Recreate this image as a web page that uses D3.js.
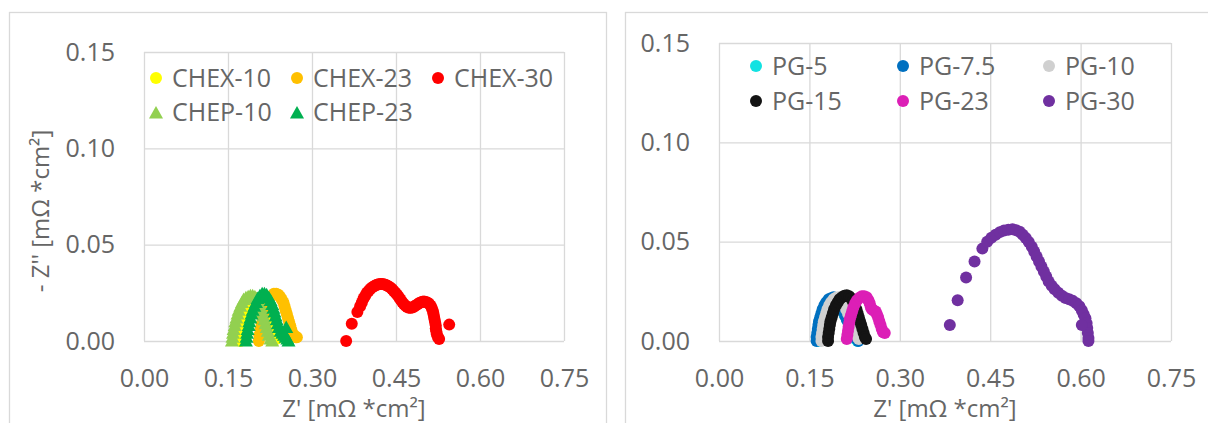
<!DOCTYPE html>
<html>
<head>
<meta charset="utf-8">
<script src="https://cdn.jsdelivr.net/npm/d3@7"></script>
<style>
  body { margin: 0; background: #fff; }
  text { font-family: "Open Sans", sans-serif; fill: #666; }
</style>
</head>
<body>
<div id="chart"></div>
<script>
// Nyquist plots, two panels (CHEX/CHEP on the left, PG on the right)
const xTicks = [0, 0.15, 0.30, 0.45, 0.60, 0.75];
const yTicks = [0, 0.05, 0.10, 0.15];

const leftNames = ["CHEX-10", "CHEX-23", "CHEX-30", "CHEP-10", "CHEP-23"];
const rightNames = ["PG-5", "PG-7.5", "PG-10", "PG-15", "PG-23", "PG-30"];

// [Z', -Z'']
const chex10 = [[0.172,0.000],[0.173,0.003],[0.175,0.006],[0.177,0.009],[0.179,0.012],[0.182,0.015],[0.185,0.017],
  [0.188,0.019],[0.192,0.0205],[0.196,0.0215],[0.200,0.022],[0.204,0.0215],[0.208,0.020],[0.211,0.018],[0.214,0.016],
  [0.217,0.014],[0.220,0.012],[0.223,0.009],[0.226,0.007],[0.229,0.005],[0.232,0.003],[0.236,0.001]];
const chex23 = [[0.205,0.000],[0.206,0.003],[0.208,0.006],[0.210,0.009],[0.212,0.012],[0.214,0.015],[0.217,0.018],
  [0.220,0.020],[0.224,0.022],[0.228,0.0235],[0.232,0.0245],[0.236,0.0245],[0.240,0.024],[0.243,0.023],[0.246,0.0215],
  [0.249,0.020],[0.251,0.018],[0.253,0.016],[0.255,0.014],[0.257,0.012],[0.259,0.010],[0.261,0.008],[0.263,0.006],
  [0.265,0.004],[0.268,0.003],[0.271,0.002],[0.273,0.002]];
const chex30 = [[0.361,0.000],[0.371,0.009],[0.381,0.015],[0.386,0.018],[0.389,0.020],[0.392,0.022],[0.395,0.0235],
  [0.398,0.025],[0.401,0.026],[0.404,0.027],[0.407,0.0277],[0.410,0.0283],[0.413,0.0288],[0.416,0.0292],[0.419,0.0295],
  [0.422,0.0296],[0.425,0.0296],[0.428,0.0295],[0.431,0.0292],[0.434,0.0288],[0.437,0.0283],[0.440,0.0277],[0.443,0.027],
  [0.446,0.026],[0.449,0.025],[0.452,0.024],[0.455,0.0228],[0.458,0.0215],[0.461,0.0203],[0.464,0.0192],[0.467,0.0183],
  [0.470,0.0177],[0.473,0.0173],[0.476,0.0172],[0.479,0.0174],[0.482,0.0178],[0.485,0.0184],[0.488,0.019],[0.491,0.0196],
  [0.494,0.020],[0.497,0.0204],[0.500,0.0205],[0.503,0.0203],[0.506,0.020],[0.509,0.0193],[0.512,0.0183],[0.514,0.017],
  [0.516,0.0155],[0.517,0.014],[0.518,0.0125],[0.519,0.011],[0.520,0.0095],[0.521,0.008],[0.521,0.0065],[0.522,0.005],
  [0.523,0.0035],[0.525,0.002],[0.527,0.001],[0.545,0.0085]];
const chep10 = [[0.157,0.000],[0.158,0.002],[0.159,0.004],[0.160,0.006],[0.162,0.008],[0.163,0.010],[0.165,0.012],
  [0.167,0.014],[0.169,0.016],[0.172,0.018],[0.175,0.020],[0.178,0.0215],[0.182,0.0225],[0.186,0.023],[0.190,0.0235],
  [0.194,0.0235],[0.198,0.023],[0.201,0.022],[0.204,0.0205],[0.207,0.019],[0.209,0.017],[0.211,0.015],[0.213,0.013],
  [0.215,0.011],[0.217,0.009],[0.219,0.007],[0.221,0.005],[0.223,0.003],[0.226,0.001],[0.229,0.000]];
const chep23 = [[0.182,0.000],[0.183,0.002],[0.184,0.004],[0.185,0.006],[0.187,0.008],[0.188,0.010],[0.190,0.012],
  [0.192,0.014],[0.194,0.016],[0.197,0.018],[0.200,0.020],[0.203,0.022],[0.207,0.0235],[0.211,0.0245],[0.215,0.0245],
  [0.219,0.024],[0.223,0.0225],[0.226,0.021],[0.229,0.019],[0.231,0.017],[0.233,0.015],[0.235,0.013],[0.237,0.011],
  [0.239,0.009],[0.241,0.007],[0.244,0.005],[0.247,0.004],[0.250,0.003],[0.253,0.002],[0.256,0.001],[0.258,0.000],
  [0.254,0.007]];

const pg5 = [[0.165,0.000],[0.165,0.002],[0.166,0.004],[0.167,0.006],[0.168,0.008],[0.169,0.010],[0.171,0.012],
  [0.173,0.014],[0.175,0.016],[0.178,0.018],[0.181,0.0195],[0.185,0.0205],[0.189,0.021],[0.193,0.0212],[0.197,0.0205],
  [0.200,0.019],[0.203,0.017],[0.206,0.015],[0.209,0.013],[0.212,0.011],[0.215,0.009],[0.218,0.007],[0.221,0.005],
  [0.224,0.003],[0.227,0.001],[0.230,0.000]];
const pg75 = [[0.162,0.000],[0.162,0.002],[0.163,0.004],[0.164,0.006],[0.165,0.008],[0.166,0.010],[0.168,0.012],
  [0.170,0.014],[0.172,0.016],[0.175,0.018],[0.178,0.0195],[0.182,0.021],[0.186,0.0215],[0.190,0.022],[0.194,0.0215],
  [0.197,0.0205],[0.200,0.019],[0.203,0.017],[0.206,0.015],[0.209,0.013],[0.212,0.011],[0.215,0.009],[0.218,0.007],
  [0.221,0.005],[0.224,0.003],[0.227,0.0015],[0.231,0.000]];
const pg10 = [[0.170,0.000],[0.170,0.002],[0.171,0.004],[0.172,0.006],[0.173,0.008],[0.174,0.010],[0.176,0.012],
  [0.178,0.014],[0.180,0.016],[0.183,0.018],[0.186,0.0195],[0.190,0.021],[0.194,0.0218],[0.198,0.022],[0.202,0.0215],
  [0.205,0.020],[0.208,0.018],[0.211,0.016],[0.214,0.014],[0.217,0.012],[0.220,0.010],[0.223,0.008],[0.226,0.006],
  [0.228,0.004],[0.230,0.002],[0.232,0.001]];
const pg15 = [[0.181,0.000],[0.181,0.002],[0.182,0.004],[0.183,0.006],[0.184,0.008],[0.185,0.010],[0.187,0.012],
  [0.189,0.014],[0.191,0.016],[0.194,0.018],[0.197,0.0195],[0.200,0.021],[0.204,0.022],[0.208,0.0228],[0.212,0.023],
  [0.216,0.0225],[0.219,0.0215],[0.222,0.020],[0.225,0.018],[0.228,0.016],[0.230,0.014],[0.232,0.012],[0.234,0.010],
  [0.236,0.008],[0.238,0.006],[0.240,0.004],[0.242,0.002],[0.244,0.001]];
const pg23 = [[0.212,0.001],[0.213,0.003],[0.214,0.005],[0.215,0.007],[0.216,0.009],[0.217,0.011],[0.219,0.013],
  [0.221,0.015],[0.223,0.017],[0.226,0.019],[0.229,0.0205],[0.233,0.0218],[0.237,0.0225],[0.241,0.0225],[0.245,0.022],
  [0.248,0.0205],[0.250,0.019],[0.252,0.017],[0.254,0.0158],[0.257,0.0152],[0.260,0.0148],[0.262,0.0135],[0.264,0.012],
  [0.266,0.010],[0.268,0.008],[0.270,0.006],[0.272,0.0045],[0.275,0.004]];
const pg30 = [[0.383,0.008],[0.396,0.0205],[0.410,0.032],[0.424,0.040],[0.437,0.0465],[0.445,0.050],[0.452,0.052],
  [0.459,0.0535],[0.466,0.0548],[0.473,0.0556],[0.480,0.056],[0.487,0.0562],[0.493,0.0558],[0.499,0.055],[0.504,0.0535],
  [0.509,0.0518],[0.514,0.0498],[0.519,0.0475],[0.523,0.045],[0.527,0.0425],[0.531,0.040],[0.535,0.0375],[0.539,0.035],
  [0.543,0.0325],[0.547,0.030],[0.552,0.0278],[0.557,0.026],[0.563,0.0243],[0.569,0.0228],[0.575,0.0217],[0.581,0.021],
  [0.587,0.0202],[0.593,0.019],[0.598,0.0175],[0.602,0.0155],[0.605,0.0135],[0.608,0.0115],[0.610,0.009],[0.611,0.0065],
  [0.612,0.004],[0.613,0.0015],[0.613,0.000],[0.602,0.008]];

const leftData = [chex10, chex23, chex30, chep10, chep23];
const rightData = [pg5, pg75, pg10, pg15, pg23, pg30];

const leftColors = ["#ffff00", "#ffc000", "#ff0000", "#92d050", "#00b050"];
const leftShapes = ["circle", "circle", "circle", "triangle", "triangle"];
const rightColors = ["#12e2e2", "#0070c0", "#d0d0d0", "#141414", "#dc1fb6", "#7030a0"];

const W = 1208, H = 423;
const svg = d3.select("#chart").append("svg").attr("width", W).attr("height", H);

const grid = "#d9d9d9";
const tri = "M0,-7L7,5.5L-7,5.5Z";

function panel(cfg) {
  // chart area frame
  svg.append("rect")
    .attr("x", cfg.frame[0] + 0.5).attr("y", cfg.frame[1] + 0.5)
    .attr("width", cfg.frame[2]).attr("height", cfg.frame[3])
    .attr("fill", "#fff").attr("stroke", grid).attr("stroke-width", 1.3);

  const x = d3.scaleLinear().domain([0, 0.75]).range([cfg.left, cfg.right]);
  const y = d3.scaleLinear().domain([0, 0.15]).range([cfg.bottom, cfg.top]);

  const g = svg.append("g");
  const fmt = d3.format(".2f");

  const xa = g.append("g").attr("transform", "translate(0," + cfg.bottom + ")")
    .call(d3.axisBottom(x).tickValues(xTicks).tickFormat(fmt)
      .tickSize(-(cfg.bottom - cfg.top)).tickPadding(28));
  const ya = g.append("g").attr("transform", "translate(" + cfg.left + ",0)")
    .call(d3.axisLeft(y).tickValues(yTicks).tickFormat(fmt)
      .tickSize(-(cfg.right - cfg.left)).tickPadding(29));
  [xa, ya].forEach(a => {
    a.select(".domain").remove();
    a.selectAll(".tick line").attr("stroke", grid).attr("stroke-width", 1.3);
    a.selectAll(".tick text").attr("font-size", 25).attr("font-family", "Open Sans").attr("fill", "#666");
  });

  // x title
  g.append("text")
    .attr("x", (cfg.left + cfg.right) / 2).attr("y", 417)
    .attr("text-anchor", "middle").attr("font-size", 24)
    .text("Z' [mΩ *cm²]");
  if (cfg.yTitle) {
    g.append("text")
      .attr("transform", "translate(41," + cfg.yTitleY + ") rotate(-90)")
      .attr("dy", "0.35em").attr("text-anchor", "middle").attr("font-size", 24)
      .text(cfg.yTitle);
  }

  // points
  cfg.data.forEach((pts, i) => {
    const sg = g.append("g").attr("fill", cfg.colors[i]);
    if (cfg.shapes && cfg.shapes[i] === "triangle") {
      sg.selectAll("path").data(pts).enter().append("path")
        .attr("d", tri)
        .attr("transform", d => "translate(" + x(d[0]) + "," + y(d[1]) + ")");
    } else {
      sg.selectAll("circle").data(pts).enter().append("circle")
        .attr("cx", d => x(d[0])).attr("cy", d => y(d[1])).attr("r", 6);
    }
  });

  // legend
  const lg = g.append("g");
  cfg.names.forEach((name, i) => {
    const col = i % 3, row = Math.floor(i / 3);
    const mx = cfg.legX[col], my = cfg.legY[row];
    if (cfg.shapes && cfg.shapes[i] === "triangle") {
      lg.append("path").attr("d", tri).attr("fill", cfg.colors[i])
        .attr("transform", "translate(" + mx + "," + (my + 1) + ")");
    } else {
      lg.append("circle").attr("cx", mx).attr("cy", my).attr("r", 6).attr("fill", cfg.colors[i]);
    }
    lg.append("text").attr("x", mx + 16).attr("y", my).attr("dy", "0.35em")
      .attr("font-size", 25).text(name);
  });
}

panel({
  frame: [9, 12, 597, 430],
  left: 144, right: 564, top: 52, bottom: 341,
  data: leftData, colors: leftColors, shapes: leftShapes, names: leftNames,
  legX: [156, 297, 438], legY: [78, 112],
  yTitle: "- Z'' [mΩ *cm²]", yTitleY: 211
});

panel({
  frame: [625, 12, 600, 430],
  left: 719, right: 1171, top: 43, bottom: 341,
  data: rightData, colors: rightColors, names: rightNames,
  legX: [756, 903, 1049], legY: [66, 101]
});
</script>
</body>
</html>
